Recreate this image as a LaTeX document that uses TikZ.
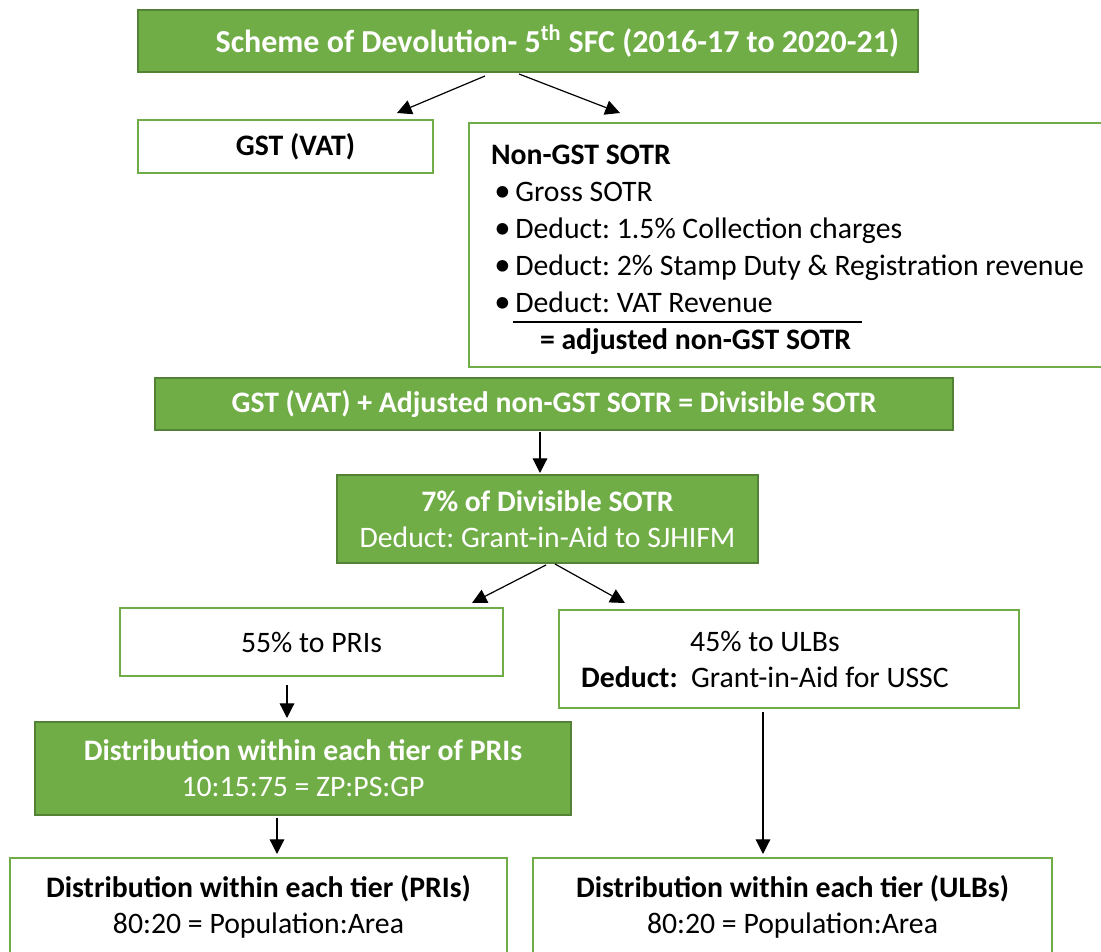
\documentclass[tikz,border=0pt]{standalone}
\usepackage{fontspec}
\setmainfont{Carlito}
\usepackage{xcolor}
\usepackage{tikz}
\usetikzlibrary{arrows, arrows.meta}

\definecolor{boxgreen}{HTML}{70AD47}
\definecolor{edgegreen}{HTML}{548235}
\newcommand{\bul}{\hspace*{2.5pt}\makebox[15.75pt][l]{\scalebox{1.1}{•}}}
\frenchspacing

\begin{document}
\begin{tikzpicture}[x=0.75pt,y=-0.75pt,
  greenbox/.style={draw=edgegreen,line width=2.2pt,fill=boxgreen,text=white,align=flush center,
    inner sep=0pt,outer sep=0pt,font=\fontsize{22.3}{27}\selectfont},
  whitebox/.style={draw=boxgreen,line width=2pt,fill=white,align=flush center,
    inner sep=0pt,outer sep=0pt,font=\fontsize{22.3}{27}\selectfont},
  arr/.style={line width=0.9pt,-{Triangle[length=11pt,width=11pt]}}]
\useasboundingbox (0,0) rectangle (1101,952);
\clip (0,0) rectangle (1101,952);

%top
\node[greenbox,minimum width=585pt,minimum height=46.5pt,font=\fontsize{24}{27}\selectfont\bfseries] (title) at (528,41)
  {\hspace*{44pt}Scheme of Devolution- 5\textsuperscript{th} SFC (2016-17 to 2020-21)};
\node[whitebox,minimum width=221.25pt,minimum height=39.75pt,font=\fontsize{22.3}{27}\selectfont\bfseries] (gst) at (285.5,146.5)
  {\hspace*{15pt}GST (VAT)};
\node[whitebox,minimum width=480.75pt,minimum height=183pt,align=flush left,text width=447.75pt,inner xsep=16.5pt,
  font=\fontsize{22.3}{27.75}\selectfont] (nongst) at (789.5,245)
  {\rule{0pt}{22pt}\textbf{Non-GST SOTR}\\
   \bul Gross SOTR\\
   \bul Deduct: 1.5\% Collection charges\\
   \bul Deduct: 2\% Stamp Duty \& Registration revenue\\
   \bul\hspace*{-2pt}\rlap{\rule[-7.5pt]{262pt}{1.3pt}}\hspace*{2pt}Deduct: VAT Revenue\\
   \hspace*{36.75pt}\textbf{= adjusted non-GST SOTR}};

%middle
\node[greenbox,minimum width=598.5pt,minimum height=39pt,font=\fontsize{22.3}{27}\selectfont\bfseries] (divisible) at (554,404)
  {GST (VAT) + Adjusted non-GST SOTR = Divisible SOTR};
\node[greenbox,minimum width=315.75pt,minimum height=66pt] (seven) at (547.5,519)
  {\textbf{7\% of Divisible SOTR}\\ Deduct: Grant-in-Aid to SJHIFM};
\node[whitebox,minimum width=287.25pt,minimum height=51pt] (pri) at (311.5,642) {55\% to PRIs};
\node[whitebox,minimum width=345pt,minimum height=73.5pt] (ulb) at (789,659)
  {\hspace*{-36pt}45\% to ULBs\\ \hspace*{-36pt}\textbf{Deduct:}~~Grant-in-Aid for USSC};

%bottom
\node[greenbox,minimum width=402pt,minimum height=69.75pt] (pridist) at (303,768.5)
  {\textbf{Distribution within each tier of PRIs}\\ 10:15:75 = ZP:PS:GP};
\node[whitebox,minimum width=372.75pt,minimum height=72.75pt] (pritier) at (258.5,906.5)
  {\textbf{Distribution within each tier (PRIs)}\\ 80:20 = Population:Area};
\node[whitebox,minimum width=389.25pt,minimum height=72.75pt] (ulbtier) at (792.5,906.5)
  {\textbf{Distribution within each tier (ULBs)}\\ 80:20 = Population:Area};

\draw[arr] ([shift={(-43,4)}]title.south) -- ([shift={(111.5,-7)}]gst.north);
\draw[arr] ([shift={(-9,2)}]title.south) -- ([shift={(151,-10)}]nongst.north west);
\draw[arr] ([shift={(-14,2)}]divisible.south) -- ([shift={(-7.5,-2)}]seven.north);
\draw[arr] ([shift={(-1.5,2)}]seven.south) -- ([shift={(160.5,-5)}]pri.north);
\draw[arr] ([shift={(7.5,1)}]seven.south) -- ([shift={(-164,-7)}]ulb.north);
\draw[arr] ([shift={(-24.5,9)}]pri.south) -- ([shift={(-16,-4)}]pridist.north);
\draw[arr] ([shift={(-26,3)}]pridist.south) -- ([shift={(18.5,-4)}]pritier.north);
\draw[arr] ([shift={(-26,4)}]ulb.south) -- ([shift={(-29.5,-4)}]ulbtier.north);
\end{tikzpicture}
\end{document}
